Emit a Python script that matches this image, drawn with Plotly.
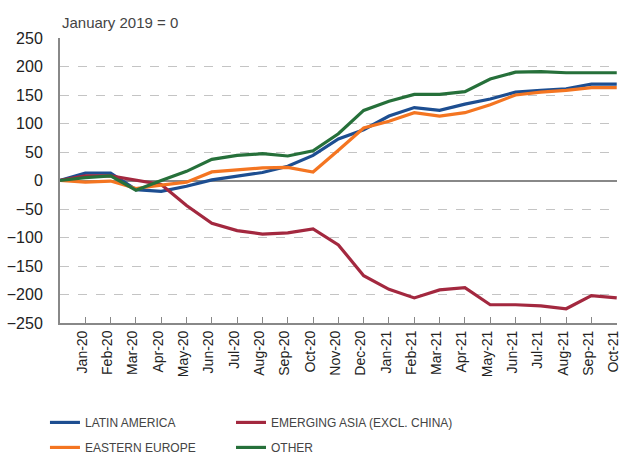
import plotly.graph_objects as go

months = ["Dec-19", "Jan-20", "Feb-20", "Mar-20", "Apr-20", "May-20", "Jun-20", "Jul-20", "Aug-20",
          "Sep-20", "Oct-20", "Nov-20", "Dec-20", "Jan-21", "Feb-21", "Mar-21", "Apr-21",
          "May-21", "Jun-21", "Jul-21", "Aug-21", "Sep-21", "Oct-21"]
tick_labels = months[1:]

latin_america = [0, 13, 13, -16, -19, -10, 1, 8, 14, 25, 44, 73, 89, 113, 128, 123, 134,
                 143, 155, 158, 161, 169, 169]
emerging_asia = [0, 8, 8, 1, -7, -44, -75, -88, -94, -92, -85, -113, -167, -191, -206, -192, -188,
                 -218, -218, -220, -225, -202, -206]
eastern_europe = [0, -3, -1, -14, -8, -3, 15, 19, 22, 23, 15, 53, 92, 104, 119, 113, 119,
                  133, 150, 155, 158, 163, 163]
other = [0, 5, 8, -17, 0, 16, 37, 44, 47, 43, 52, 82, 123, 139, 151, 151, 156,
         178, 190, 191, 189, 189, 189]

x_idx = list(range(len(months)))

series = [
    ("LATIN AMERICA", latin_america, "#1d4e91", "legend", "g1"),
    ("EMERGING ASIA (EXCL. CHINA)", emerging_asia, "#a3283f", "legend2", "g2"),
    ("EASTERN EUROPE", eastern_europe, "#f47521", "legend", "g3"),
    ("OTHER", other, "#26703a", "legend2", "g4"),
]

fig = go.Figure()
for name, vals, color, leg, grp in series:
    fig.add_trace(go.Scatter(
        x=x_idx, y=vals, mode="lines", name=name,
        line=dict(color=color, width=3.2),
        legend=leg, legendgroup=grp,
        customdata=months, hovertemplate="%{customdata}: %{y}<extra>" + name + "</extra>",
    ))

font_main = "Liberation Sans, Arial, sans-serif"
font_leg = "Liberation Sans Narrow, Arial Narrow, Liberation Sans, sans-serif"

leg_common = dict(y=-0.298, yanchor="top", xanchor="left", orientation="v",
                  font=dict(family=font_leg, size=12, color="#444"),
                  tracegroupgap=6, bgcolor="rgba(0,0,0,0)")

fig.update_layout(
    width=622, height=455,
    margin=dict(l=60, r=5, t=38, b=132, autoexpand=False),
    paper_bgcolor="white", plot_bgcolor="white",
    font=dict(family=font_main, color="#222"),
    showlegend=True,
    legend=dict(x=-0.027, **leg_common),
    legend2=dict(x=0.307, **leg_common),
    annotations=[dict(text="January 2019 = 0", xref="paper", yref="paper", x=0, y=1,
                      xanchor="left", yanchor="bottom", yshift=5, showarrow=False,
                      font=dict(size=15, color="#444", family=font_main))],
)

fig.update_xaxes(
    range=[0, len(months) - 1 + 0.01],
    tickmode="array", tickvals=x_idx[1:], ticktext=tick_labels,
    tickangle=-90, tickfont=dict(size=14, color="#222"),
    ticks="inside", ticklen=6, tickcolor="#888", tickwidth=1,
    showgrid=False, zeroline=False, automargin=False, ticklabeloverflow="allow",
    ticklabelshift=-3,
    showline=True, linecolor="#888", linewidth=2,
)
fig.update_yaxes(
    range=[-250, 250], tickmode="array", tickvals=list(range(-250, 251, 50)),
    tickfont=dict(size=16, color="#222"),
    showgrid=True, gridcolor="#c4c4c4", griddash="dash", gridwidth=1,
    zeroline=True, zerolinecolor="#888", zerolinewidth=1.5,
    showline=True, linecolor="#888", linewidth=2, automargin=False,
    ticks="", ticklabelstandoff=12,
)

fig.write_html("out.html", config={"displayModeBar": False},
               post_script="document.body.style.margin='0';")
